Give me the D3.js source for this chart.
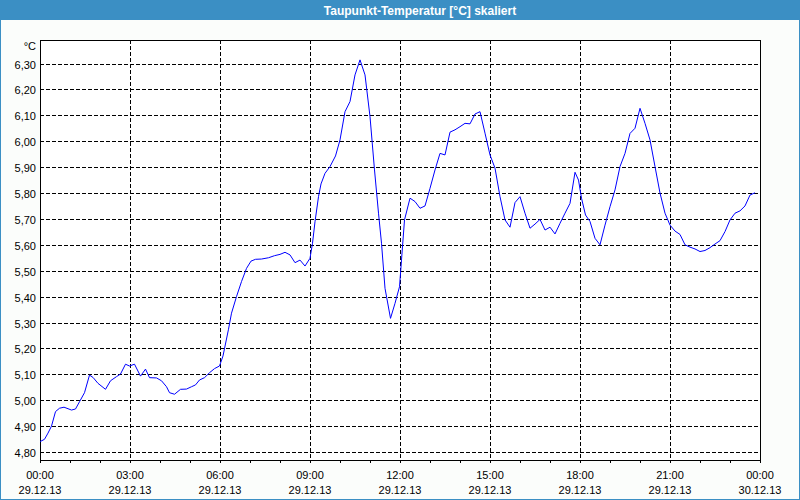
<!DOCTYPE html>
<html>
<head>
<meta charset="utf-8">
<script src="https://cdn.jsdelivr.net/npm/d3@7"></script>
<style>
  html, body { margin: 0; padding: 0; background: #ffffff; }
  svg { display: block; }
</style>
</head>
<body>
<svg id="chart" width="800" height="500"></svg>
<script>
// ---- DATA ----
const title = "Taupunkt-Temperatur [°C] skaliert";
const unitLabel = "°C";
// minutes since 29.12.13 00:00
const minutes = [0,9,16,23,31,39,48,63,71,79,89,99,106,116,131,141,153,161,171,179,189,201,211,219,233,243,253,259,269,281,293,303,311,319,329,339,349,359,366,
  377,383,393,403,413,422,431,443,457,469,480,490,500,510,520,530,540,545,550,557,562,570,580,591,600,610,620,630,640,650,660,669,677,683,690,701,710,719,723,729,
  740,750,760,770,780,790,800,810,820,830,840,850,860,870,880,890,900,910,920,930,940,950,960,970,980,990,1000,1010,1020,1030,1040,1050,1060,1070,1077,1083,1091,1100,1110,1120,
  1130,1140,1150,1160,1170,1180,1190,1200,1210,1220,1230,1240,1250,1260,1270,1280,1290,1300,1310,1320,1330,1340,1350,1360,1370,1380,1390,1400,1410,1420,1430];
const temps = [4.840,4.849,4.873,4.900,4.956,4.969,4.973,4.962,4.966,4.994,5.029,5.097,5.088,5.065,5.042,5.075,5.091,5.101,5.139,5.132,5.139,5.093,5.120,5.087,5.086,5.075,5.052,5.029,5.023,5.042,5.043,5.052,5.059,5.078,5.087,5.106,5.122,5.132,5.171,
  5.274,5.336,5.400,5.458,5.509,5.537,5.544,5.545,5.550,5.558,5.563,5.571,5.561,5.531,5.541,5.518,5.548,5.606,5.689,5.786,5.835,5.876,5.902,5.943,6.005,6.114,6.153,6.256,6.314,6.256,6.095,5.889,5.722,5.606,5.432,5.316,5.374,5.438,5.541,5.696,
  5.780,5.767,5.741,5.750,5.818,5.889,5.953,5.947,6.035,6.044,6.056,6.069,6.067,6.105,6.114,6.031,5.947,5.896,5.786,5.696,5.668,5.763,5.786,5.722,5.664,5.680,5.698,5.657,5.668,5.642,5.683,5.722,5.760,5.880,5.850,5.780,5.715,5.690,5.625,5.600,
  5.676,5.747,5.812,5.902,5.953,6.030,6.050,6.127,6.069,6.005,5.902,5.800,5.722,5.676,5.653,5.640,5.600,5.591,5.584,5.574,5.578,5.589,5.603,5.616,5.651,5.696,5.722,5.731,5.750,5.792,5.801];
const yTickValues = [4.80,4.90,5.00,5.10,5.20,5.30,5.40,5.50,5.60,5.70,5.80,5.90,6.00,6.10,6.20,6.30];
const yTickLabels = ["4,80","4,90","5,00","5,10","5,20","5,30","5,40","5,50","5,60","5,70","5,80","5,90","6,00","6,10","6,20","6,30"];
const xTickMinutes = [0,180,360,540,720,900,1080,1260,1440];
const xTimeLabels = ["00:00","03:00","06:00","09:00","12:00","15:00","18:00","21:00","00:00"];
const xDateLabels = ["29.12.13","29.12.13","29.12.13","29.12.13","29.12.13","29.12.13","29.12.13","29.12.13","30.12.13"];
const xMinorMinutes = d3.range(0, 1441, 60);

// ---- LAYOUT ----
const W = 800, H = 500;
const plot = {left: 40, right: 760, top: 40, bottom: 460};
const svg = d3.select("#chart");
const font = "'Liberation Sans', Arial, sans-serif";

// window background + border
svg.append("rect").attr("x", 0.5).attr("y", 0.5).attr("width", W - 1).attr("height", H - 1)
  .attr("fill", "#fbfdfb").attr("stroke", "#3b8fc4").attr("stroke-width", 1);
// title bar
svg.append("rect").attr("x", 0).attr("y", 0).attr("width", W).attr("height", 20).attr("fill", "#3b8fc4");
svg.append("text").attr("x", 420).attr("y", 14.5).attr("text-anchor", "middle")
  .attr("font-family", font).attr("font-weight", "bold").attr("font-size", 12)
  .attr("fill", "#ffffff").text(title);

// scales
const x = d3.scaleLinear().domain([0, 1440]).range([plot.left, plot.right]);
const y = d3.scaleLinear().domain([4.80, 6.30]).range([452, 63.5]);

// plot background
svg.append("rect").attr("x", plot.left).attr("y", plot.top)
  .attr("width", plot.right - plot.left).attr("height", plot.bottom - plot.top).attr("fill", "#ffffff");

// grid
const grid = svg.append("g").attr("stroke", "#000").attr("stroke-width", 1)
  .attr("stroke-dasharray", "4,2").attr("shape-rendering", "crispEdges");
grid.selectAll("line.h").data(yTickValues).join("line")
  .attr("x1", plot.left).attr("x2", plot.right)
  .attr("y1", d => Math.round(y(d)) + 0.5).attr("y2", d => Math.round(y(d)) + 0.5);
grid.selectAll("line.v").data(xTickMinutes.slice(1, -1)).join("line")
  .attr("y1", plot.top).attr("y2", plot.bottom)
  .attr("x1", d => Math.round(x(d)) + 0.5).attr("x2", d => Math.round(x(d)) + 0.5);

// frame
svg.append("rect").attr("x", plot.left + 0.5).attr("y", plot.top + 0.5)
  .attr("width", plot.right - plot.left).attr("height", plot.bottom - plot.top)
  .attr("fill", "none").attr("stroke", "#000").attr("shape-rendering", "crispEdges");

// minor ticks on x
svg.append("g").selectAll("line").data(xMinorMinutes).join("line")
  .attr("x1", d => Math.round(x(d)) + 0.5).attr("x2", d => Math.round(x(d)) + 0.5)
  .attr("y1", plot.bottom).attr("y2", plot.bottom + 3)
  .attr("stroke", "#000").attr("shape-rendering", "crispEdges");

// y labels
svg.append("g").selectAll("text").data(yTickValues).join("text")
  .attr("x", 36).attr("y", d => Math.round(y(d)) + 5)
  .attr("text-anchor", "end").attr("font-family", font).attr("font-size", 11).attr("fill", "#000")
  .text((d, i) => yTickLabels[i]);
svg.append("text").attr("x", 36).attr("y", 49.5).attr("text-anchor", "end")
  .attr("font-family", font).attr("font-size", 11).attr("fill", "#000").text(unitLabel);

// x labels
const xl = svg.append("g").attr("font-family", font).attr("font-size", 11).attr("fill", "#000").attr("text-anchor", "middle");
xl.selectAll("text.t").data(xTickMinutes).join("text").attr("class", "t")
  .attr("x", d => x(d)).attr("y", 478.5).text((d, i) => xTimeLabels[i]);
xl.selectAll("text.d").data(xTickMinutes).join("text").attr("class", "d")
  .attr("x", d => x(d)).attr("y", 493.5).text((d, i) => xDateLabels[i]);

// data line
const pts = minutes.map((m, i) => [m, temps[i]]);
svg.append("path").datum(pts)
  .attr("d", d3.line().x(d => x(d[0])).y(d => y(d[1])))
  .attr("fill", "none").attr("stroke", "#0000ff").attr("stroke-width", 1);
</script>
</body>
</html>
